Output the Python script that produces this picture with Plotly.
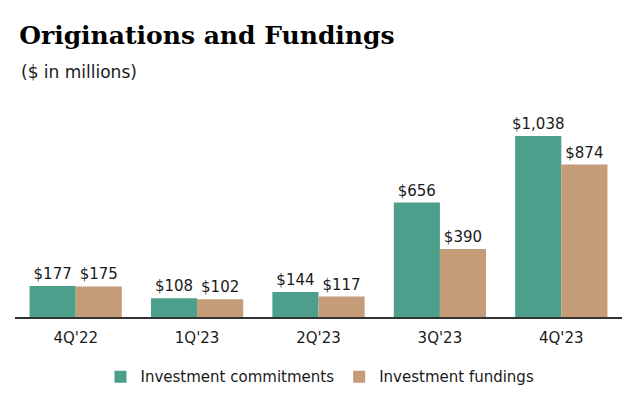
import plotly.graph_objects as go

categories = ["4Q'22", "1Q'23", "2Q'23", "3Q'23", "4Q'23"]
commitments = [177, 108, 144, 656, 1038]
fundings = [175, 102, 117, 390, 874]
series_names = ["Investment commitments", "Investment fundings"]

green = "#4C9F8B"
tan = "#C49C77"
label_font = dict(family="DejaVu Sans", size=15, color="#1a1a1a")

fig = go.Figure()
fig.add_trace(go.Bar(
    x=categories, y=commitments, name=series_names[0],
    marker=dict(color=green, line=dict(width=0)),
    text=[f"${v:,}" for v in commitments], textposition="outside",
    textfont=label_font, cliponaxis=False, constraintext="none",
))
fig.add_trace(go.Bar(
    x=categories, y=fundings, name=series_names[1],
    marker=dict(color=tan, line=dict(width=0)),
    text=[f"${v:,}" for v in fundings], textposition="outside",
    textfont=label_font, cliponaxis=False, constraintext="none",
))

fig.update_layout(
    width=640, height=407,
    paper_bgcolor="white", plot_bgcolor="white",
    barmode="group", bargap=0.24, bargroupgap=0,
    margin=dict(l=15, r=18, t=100, b=90, autoexpand=False),
    showlegend=True,
    legend=dict(orientation="h", x=0.5, xanchor="center", xref="container",
                y=0.074, yanchor="middle", yref="container",
                font=dict(family="DejaVu Sans", size=15, color="#1a1a1a"),
                itemwidth=30, traceorder="normal"),
    title=dict(text="<b>Originations and Fundings</b>", x=0.03, xanchor="left",
               xref="container", y=0.913, yanchor="middle", yref="container",
               font=dict(family="DejaVu Serif", size=25, color="black")),
    xaxis=dict(showgrid=False, showline=True, linecolor="#333333", linewidth=2,
               ticks="", ticklabelstandoff=6, automargin=False,
               tickfont=dict(family="DejaVu Sans", size=15, color="#1a1a1a")),
    yaxis=dict(range=[0, 1244], visible=False, showgrid=False, zeroline=False,
               automargin=False),
    annotations=[
        dict(text="($ in millions)", xref="paper", yref="paper",
             x=0.006, xanchor="left", y=1.129, yanchor="middle", showarrow=False,
             font=dict(family="DejaVu Sans", size=17, color="#1a1a1a")),
    ],
)
fig.write_html("out.html", config={"displayModeBar": False},
               post_script="document.body.style.margin='0';")
